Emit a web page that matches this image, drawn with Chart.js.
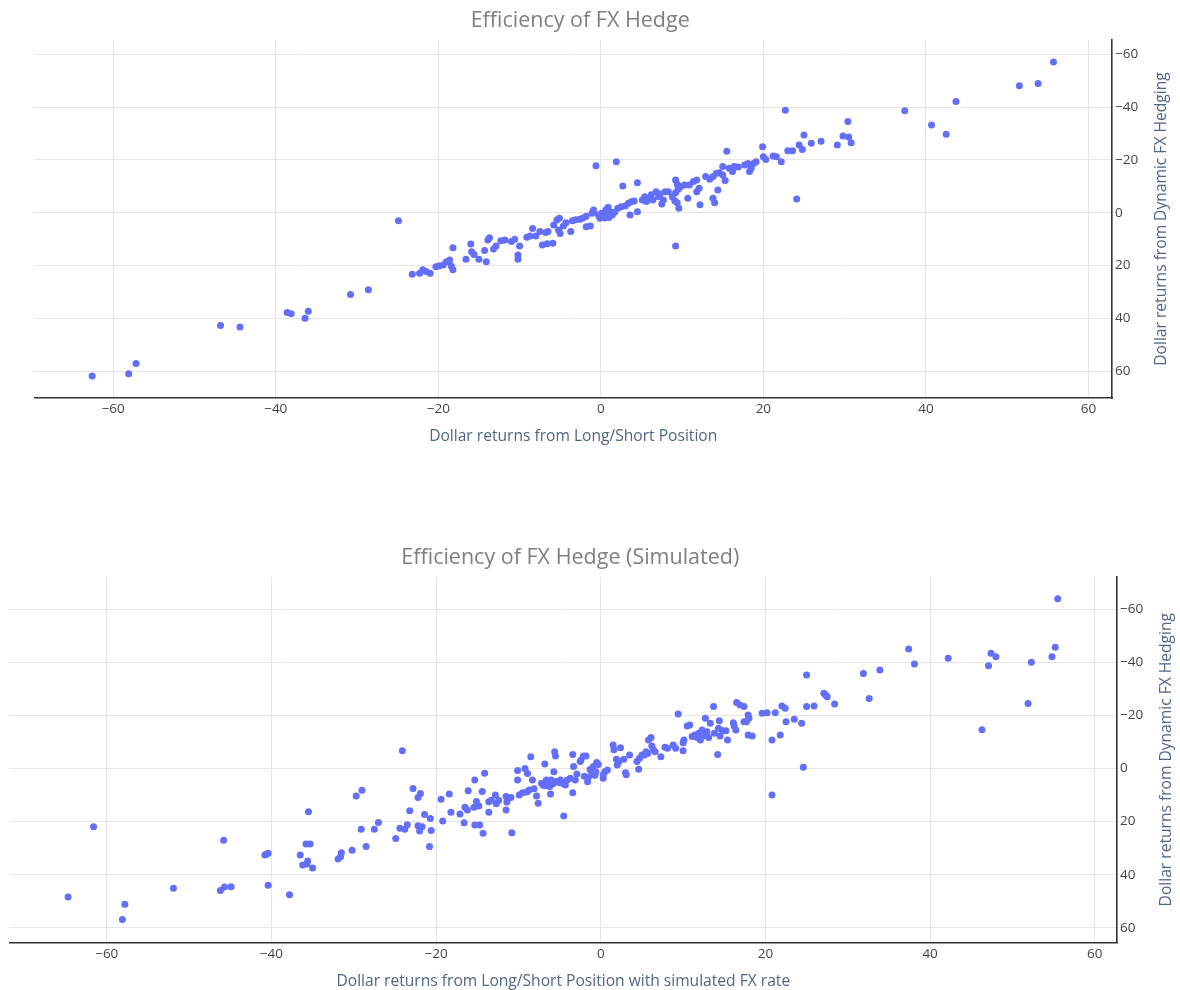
<!DOCTYPE html>
<html>
<head>
<meta charset="utf-8">
<script src="https://cdn.jsdelivr.net/npm/chart.js@4.4.1/dist/chart.umd.min.js"></script>
<style>
  body { margin: 0; background: #fff; }
  canvas { position: absolute; left: 0; }
  #c1 { top: 0; }
  #c2 { top: 495px; }
</style>
</head>
<body>
<canvas id="c1" width="1180" height="495"></canvas>
<canvas id="c2" width="1180" height="495"></canvas>
<script>
// tick labels shared by both charts
const tickValues = [-60, -40, -20, 0, 20, 40, 60];

// chart 1: actual FX hedge
const hedgeX = [
  -62.6, -58.1, -57.2, -46.8, -44.4, -38.6, -38.1, -36.4, -36.0, -30.8, -28.6, -24.9, -0.6,
  -23.2, -22.3, -21.9, -21.5, -21.0, -20.3, -19.9, -19.4, -19.0, -18.6, -18.4, -18.2, -18.2,
  -16.6, -16.0, -15.9, -15.6, -15.0, -14.3, -14.1, -13.9, -13.7, -13.2, -12.9, -12.3, -11.8,
  -11.0, -10.6, -10.0, -10.2, -10.2, -9.1, -8.7, -8.4, -8.0, -7.5, -7.2, -6.8, -6.6, -6.5,
  -5.9, -5.8, -5.4, -5.2, -5.1, -5.0, -4.6, -4.3, -3.7, -3.5, -3.1, -2.6, -2.2, -1.8, -1.3,
  -1.8, -1.1, -0.9, -0.3, 0.1, -0.1, 0.6, 0.9, 0.3, 0.8, 1.2, 1.4, 0.5, 1.0, 1.7,
  1.9, 2.7, 4.5, 2.1, 2.5, 3.0, 3.4, 3.8, 4.1, 3.6, 4.5, 5.1, 5.4, 5.6, 6.0, 6.2, 6.4, 6.8,
  7.1, 7.3, 7.5, 7.7, 7.9, 8.3, 8.8, 9.1, 9.2, 9.4, 9.5, 9.2, 9.4, 9.6, 9.8, 10.3, 10.7,
  10.9, 11.4, 11.8, 11.8, 12.1, 12.2, 12.9, 13.4, 13.8, 13.8, 14.0, 14.2, 14.4, 14.6, 15.0,
  15.3, 15.5, 15.0, 15.8, 16.2, 16.4, 16.9, 17.7, 18.1, 18.3, 18.5, 18.8, 19.1, 19.9, 20.0,
  20.3, 21.2, 21.6, 22.2, 23.0, 23.6, 24.4, 24.8, 25.0, 25.9, 24.1, 9.2,
  22.7, 27.1, 29.1, 29.8, 30.5, 30.8, 30.4, 37.4, 40.7, 42.5, 43.7, 51.5, 53.8, 55.7
];
const hedgeY = [
  61.8, 60.9, 57.0, 42.7, 43.2, 37.7, 38.2, 39.9, 37.3, 30.9, 29.1, 3.0, -17.8,
  23.3, 22.9, 21.6, 22.2, 22.9, 20.4, 20.1, 19.8, 18.5, 17.9, 20.1, 21.6, 13.2,
  17.6, 11.8, 14.7, 15.8, 17.6, 14.3, 18.5, 10.3, 9.4, 13.7, 12.6, 10.6, 10.3,
  10.9, 10.0, 12.6, 16.0, 17.6, 9.3, 8.8, 5.9, 8.8, 7.1, 12.2, 7.5, 11.7, 7.1,
  11.5, 4.6, 2.7, 6.5, 2.1, 7.8, 5.0, 3.8, 7.1, 3.0, 2.6, 2.4, 2.0, 5.3, 5.0,
  1.3, 0.2, -1.1, 0.8, 0.2, 2.1, -1.1, -2.1, 1.5, 0.5, -0.3, 0.8, 2.0, 1.8, -0.2,
  -19.3, -10.1, -11.4, -1.7, -2.3, -2.6, -3.6, -4.3, -4.5, 0.8, -0.4, -4.8, -6.1, -4.3, -5.6, -6.8, -4.8, -8.0,
  -6.1, -7.1, -3.3, -4.8, -8.0, -8.0, -6.1, -4.6, -12.4, -10.9, -8.9, -7.6, -3.8, -1.7, -9.9, -10.5, -5.5,
  -10.5, -11.8, -12.4, -8.0, -9.3, -3.0, -13.7, -12.7, -13.7, -5.5, -3.8, -14.9, -8.6, -15.2, -14.3,
  -12.2, -23.3, -17.5, -16.9, -15.6, -17.5, -17.3, -18.1, -18.7, -15.6, -16.9, -18.7, -19.3, -25.0, -21.2,
  -20.2, -21.5, -21.2, -19.3, -23.5, -23.5, -25.7, -24.0, -29.4, -26.3, -5.2, 12.6,
  -38.8, -27.1, -25.7, -29.1, -28.7, -26.5, -34.6, -38.6, -33.2, -29.7, -42.1, -48.1, -48.9, -57.1
];

// chart 2: simulated FX rate
const simX = [
  -64.7, -61.6, -58.1, -57.8, -51.9, -46.2, -45.7, -44.9, -45.8, -40.8, -40.6, -40.4, -40.4, -37.8,
  -35.5, -35.8, -35.3, -36.5, -35.6, -36.2, -35.7, -35.0, -31.9, -31.6, -31.5, -30.2, -29.7, -29.0,
  -29.1, -28.5, -27.5, -27.0, -24.9, -24.4,
  -24.1, -23.8, -23.5, -23.2, -22.8, -22.2, -21.9, -22.2, -22.0, -21.7, -21.4, -20.7, -20.6, -20.8,
  -19.4, -19.2, -18.4, -18.2, -17.1, -16.6, -16.5, -16.2, -16.1, -15.3, -15.4, -15.1, -15.3, -14.7,
  -14.8, -14.4, -14.3, -14.1, -13.6, -13.6, -13.3, -12.8, -12.7, -12.4, -11.5, -11.5, -11.4, -10.9,
  -10.8, -10.1, -10.1, -9.9, -9.5, -9.2, -8.9, -9.0, -8.7, -8.5, -8.3, -8.1, -7.8, -7.6, -7.0, -6.8,
  -6.6, -6.4, -6.2, -6.1, -6.0, -5.7, -5.6, -5.5, -5.3, -4.9, -4.5, -4.3, -4.1, -3.7, -3.4, -3.4,
  -3.3, -3.1, -2.9, -2.5, -2.4, -2.1, -1.8, -1.6, -1.3, -1.0, -0.9, -0.5, -0.7,
  -7.2, -6.8, -5.8, -5.0, -4.6, -2.0, -1.5,
  -1.1, -0.8, -0.6, -0.3, 0.3, 0.5, 0.8, 0.3, 1.5, 1.6, 2.4, 1.9, 2.2, 2.0, 2.8, 3.0, 3.1, 3.5,
  4.4, 4.6, 4.7, 5.0, 5.3, 5.5, 5.8, 6.1, 5.7, 6.2, 6.4, 6.6, 7.3, 7.8, 8.1, 8.8, 9.1, 9.4,
  10.0, 10.0, 10.1, 10.5, 10.8, 11.1, 11.4, 11.7, 11.9, 12.1, 12.3, 12.5, 12.7, 12.9, 13.1, 13.3,
  13.7, 13.8, 14.2, 14.3, 14.4, 14.5, 14.8, 15.2, 15.4, 16.1, 16.2, 16.4, 16.5, 16.9, 17.4, 17.4,
  17.7, 17.9, 18.0, 17.9, 18.4, 19.6, 20.2, 21.2, 20.8, 21.8, 22.0, 22.4, 22.5, 23.5, 20.8,
  24.4, 24.6, 25.0, 25.0, 25.9, 27.1, 27.5, 27.3, 28.4, 31.9, 33.9, 32.6, 37.4, 38.1, 42.2, 46.3,
  47.1, 47.4, 48.0, 52.3, 51.9, 54.8, 55.2, 55.5
];
const simY = [
  48.4, 21.9, 56.9, 51.1, 45.1, 45.9, 44.6, 44.5, 27.0, 32.6, 32.3, 31.9, 44.0, 47.5,
  16.3, 28.4, 28.4, 32.6, 34.8, 36.3, 36.0, 37.5, 34.1, 33.2, 31.7, 30.8, 10.4, 8.2,
  22.9, 29.4, 22.9, 20.3, 26.4, 22.5,
  -6.7, 22.9, 21.2, 15.9, 7.5, 10.9, 9.4, 21.6, 23.5, 21.9, 17.3, 18.8, 23.4, 29.4,
  11.6, 19.8, 9.6, 16.5, 17.1, 20.4, 14.6, 15.6, 8.4, 4.3, 14.6, 12.4, 21.3, 21.3,
  14.1, 8.7, 24.4, 1.8, 16.5, 12.5, 12.0, 10.0, 13.3, 12.0, 10.6, 15.6, 12.6, 10.9,
  24.2, 4.3, 0.8, 10.0, 9.1, 0.0, 1.9, 8.9, 8.1, -4.4, 4.3, 7.6, 10.4, 13.1, 6.2, -1.7,
  4.3, 5.3, 6.8, 9.6, 4.3, 1.2, -6.3, -4.7, 4.9, 4.3, 17.9, 6.2, 4.3, 3.7, -5.3, 9.1,
  -0.7, 4.3, 2.1, -2.6, -3.2, -4.7, -4.7, 5.0, 0.4, 1.0, -0.7, -2.2, 2.6,
  5.6, 6.5, 5.8, 5.4, 5.7, 2.9, 3.3,
  1.2, 2.4, 1.2, -1.5, 2.4, 1.2, 0.6, 3.7, -8.8, -7.0, -7.8, -3.5, -2.6, -1.3, -3.5, 1.6, 2.4, -5.1,
  -2.6, 0.3, -3.8, -5.1, -5.1, -6.3, -10.7, -11.7, -5.6, -8.5, -7.0, -6.3, -4.4, -8.0, -7.6, -8.8, -7.6, -20.5,
  -9.7, -6.7, -10.7, -16.0, -16.4, -12.0, -12.6, -11.7, -13.3, -10.7, -14.5, -12.2, -18.9, -13.8, -11.7, -17.0,
  -23.3, -13.3, -5.3, -15.1, -18.0, -12.2, -14.2, -14.2, -10.7, -17.2, -16.0, -14.5, -24.8, -23.9, -23.3, -17.6,
  -17.6, -20.1, -18.9, -12.6, -12.2, -20.8, -21.0, -21.0, -10.7, -12.6, -23.5, -22.7, -17.6, -18.5, 10.0,
  -17.0, -0.5, -35.2, -23.3, -23.5, -28.3, -27.0, -27.7, -24.3, -35.8, -37.1, -26.3, -45.0, -39.3, -41.5, -14.6,
  -38.7, -43.4, -42.1, -40.0, -24.5, -42.1, -45.6, -63.9
];

const fmtTick = v => (v < 0 ? '\u2212' + Math.abs(v) : String(v));

// chart and axis titles, placed around the chart area
const titlesPlugin = {
  id: 'titles',
  afterDraw(chart, args, opts) {
    const { ctx, chartArea: a } = chart;
    const cx = (a.left + a.right) / 2;
    ctx.save();
    ctx.textAlign = 'center';
    ctx.textBaseline = 'middle';
    ctx.fillStyle = '#7f7f7f';
    ctx.font = '21.5px "Open Sans"';
    ctx.fillText(opts.title, cx + 7, a.top - 19);
    ctx.fillStyle = '#506784';
    ctx.font = '15.6px "Open Sans"';
    ctx.fillText(opts.xTitle, cx, a.bottom + 39);
    ctx.translate(a.right + 50, (a.top + a.bottom) / 2);
    ctx.rotate(-Math.PI / 2);
    ctx.fillText(opts.yTitle, 0, 0);
    ctx.restore();
  }
};

function makeChart(id, xs, ys, c) {
  const points = xs.map((x, i) => ({ x: x, y: ys[i] }));
  const axisBase = {
    type: 'linear',
    afterBuildTicks: s => { s.ticks = tickValues.map(v => ({ value: v })); },
    grid: { color: '#e6e6e6', lineWidth: 1, drawTicks: false },
    border: { display: true, color: '#333', width: 1.6 },
    ticks: { color: '#444', font: { family: 'Open Sans', size: 13.5 }, padding: 3, callback: fmtTick }
  };
  return new Chart(document.getElementById(id), {
    type: 'scatter',
    data: {
      datasets: [{
        data: points,
        pointRadius: 3.5,
        pointHoverRadius: 3.5,
        pointBackgroundColor: '#636efa',
        pointBorderWidth: 0
      }]
    },
    options: {
      responsive: false,
      animation: false,
      devicePixelRatio: 1,
      layout: { padding: { left: c.left, top: c.top, right: 0, bottom: 0 } },
      plugins: {
        legend: { display: false },
        tooltip: { enabled: false },
        titles: { title: c.title, xTitle: c.xTitle, yTitle: c.yTitle }
      },
      scales: {
        x: Object.assign({}, axisBase, {
          min: c.xMin, max: c.xMax,
          afterFit: s => { s.height = 495 - c.bottom; }
        }),
        y: Object.assign({}, axisBase, {
          position: 'right', reverse: true,
          min: c.yMin, max: c.yMax,
          afterFit: s => { s.width = 1180 - c.right; }
        })
      }
    },
    plugins: [titlesPlugin]
  });
}

makeChart('c1', hedgeX, hedgeY, {
  title: 'Efficiency of FX Hedge',
  xTitle: 'Dollar returns from Long/Short Position',
  yTitle: 'Dollar returns from Dynamic FX Hedging',
  left: 34.4, top: 40, right: 1112, bottom: 398,
  xMin: -69.7, xMax: 62.9, yMin: -65.4, yMax: 70.1
});

makeChart('c2', simX, simY, {
  title: 'Efficiency of FX Hedge (Simulated)',
  xTitle: 'Dollar returns from Long/Short Position with simulated FX rate',
  yTitle: 'Dollar returns from Dynamic FX Hedging',
  left: 9.6, top: 81.7, right: 1117, bottom: 447.7,
  xMin: -71.8, xMax: 62.7, yMin: -72.2, yMax: 65.6
});
</script>
</body>
</html>
